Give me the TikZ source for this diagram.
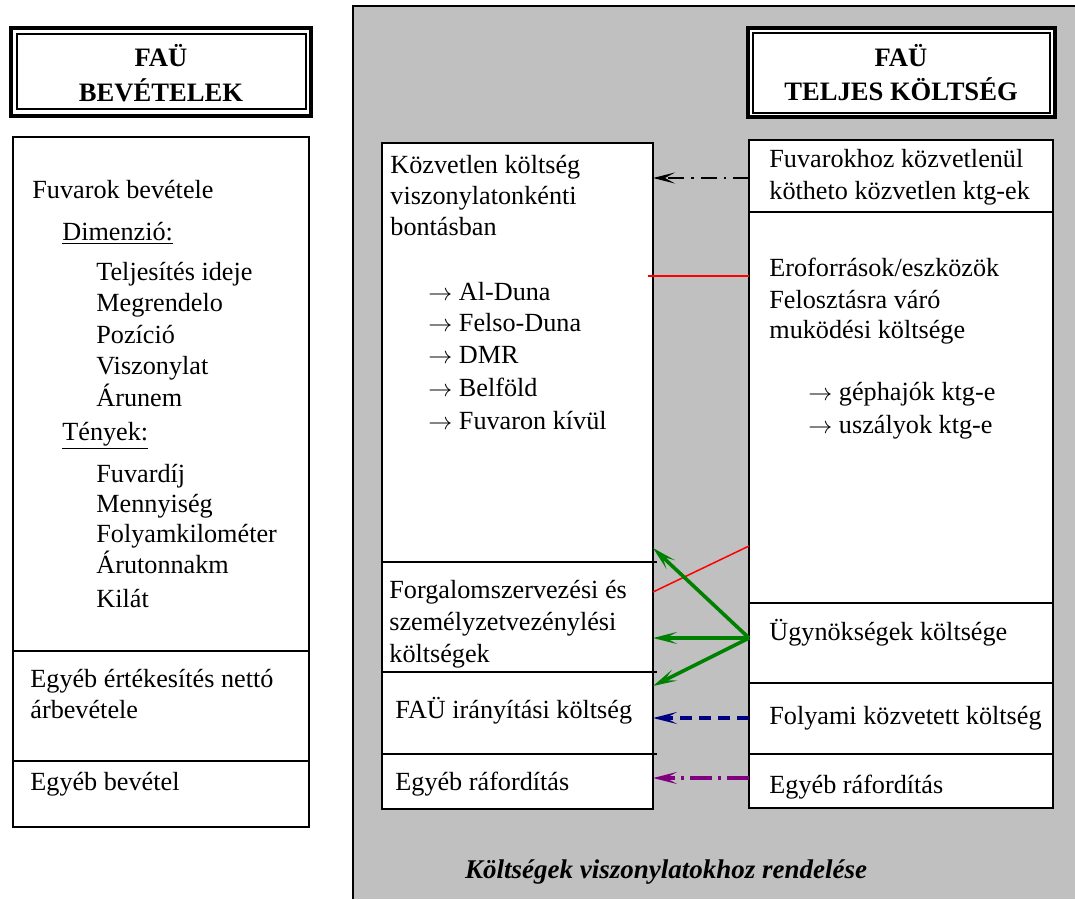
\documentclass[tikz,border=0pt]{standalone}
\usepackage{fontspec}
\setmainfont{Liberation Serif}
\usetikzlibrary{fit,arrows.meta}
\definecolor{panelgrey}{RGB}{192,192,192}
\definecolor{arrgreen}{RGB}{0,128,0}
\definecolor{arrnavy}{RGB}{0,0,128}
\definecolor{arrpurple}{RGB}{128,0,128}
\begin{document}
\begin{tikzpicture}[x=0.5pt,y=-0.5pt,
  panelbox/.style={fill=panelgrey, inner sep=0pt, outer sep=0pt},
  colbox/.style={draw, line width=0.75pt, fill=white, inner sep=0pt, outer sep=0pt},
  headbox/.style={draw, line width=1.8pt, fill=white, inner sep=0pt, outer sep=0pt},
  headinner/.style={line width=0.6pt},
  divider/.style={line width=0.75pt},
  txt/.style={anchor=base west, inner sep=0pt, font=\fontsize{13.1}{15.5}\selectfont},
  headtxt/.style={anchor=base, inner sep=0pt, font=\fontsize{13.3}{15.5}\selectfont\bfseries},
  tip/.style={-{Stealth[length=12pt,width=6pt,inset=5.5pt]}},
  thinlink/.style={line width=0.75pt, dash pattern=on 8pt off 3.5pt on 1.2pt off 3.5pt, -{Stealth[length=11pt,width=5.5pt,inset=5pt]}},
  redlink/.style={red, line width=0.75pt},
  greenlink/.style={arrgreen, line width=1.8pt, tip},
  navylink/.style={arrnavy, line width=2pt, dash pattern=on 6pt off 3.5pt, tip},
  purplelink/.style={arrpurple, line width=2pt, dash pattern=on 11pt off 3pt on 1.5pt off 3pt, tip}]
\useasboundingbox (0,0) rectangle (1075,899);

% grey cost panel
\node[panelbox, fit={(353,6)(1075,899)}] (panel) {};
\draw[line width=1pt] (panel.south west) -- (panel.north west) -- (panel.north east);

% revenue header
\node[headbox, fit={(11,28)(311,116)}] (revhead) {};
\draw[headinner] (17,34) rectangle (306,109);
\node[headtxt] (revh1) at (161,67) {FAÜ};
\node[headtxt] (revh2) at (161,102) {BEVÉTELEK};

% total cost header
\node[headbox, fit={(748,28)(1055,117)}] (costhead) {};
\draw[headinner] (753,33) rectangle (1050,113);
\node[headtxt] (costh1) at (901,67) {FAÜ};
\node[headtxt] (costh2) at (901,101) {TELJES KÖLTSÉG};

% revenue column
\node[colbox, fit={(13,137)(309,827)}] (rev) {};
\draw[divider] (rev.west |- 0,651) -- (rev.east |- 0,651);
\draw[divider] (rev.west |- 0,761) -- (rev.east |- 0,761);
\node[txt] (r1) at (32,198) {Fuvarok bevétele};
\node[txt] (r2) at (62,240) {\underline{Dimenzió:}};
\node[txt] (r3) at (96,280) {Teljesítés ideje};
\node[txt] (r4) at (96,311.5) {Megrendelo};
\node[txt] (r5) at (96,343) {Pozíció};
\node[txt] (r6) at (96,374.5) {Viszonylat};
\node[txt] (r7) at (96,406) {Árunem};
\node[txt] (r8) at (62,440) {\underline{Tények:}};
\node[txt] (r9) at (96,482) {Fuvardíj};
\node[txt] (r10) at (96,512) {Mennyiség};
\node[txt] (r11) at (96,542) {Folyamkilométer};
\node[txt] (r12) at (96,573) {Árutonnakm};
\node[txt] (r13) at (96,607) {Kilát};
\node[txt] (r14) at (30,687) {Egyéb értékesítés nettó};
\node[txt] (r15) at (30,718) {árbevétele};
\node[txt] (r16) at (30,790) {Egyéb bevétel};

% cost allocation column
\node[colbox, fit={(382,143)(653,809)}] (mc) {};
\draw[divider] (mc.west |- 0,562) -- ([xshift=2pt]mc.east |- 0,562);
\draw[divider] (mc.west |- 0,672) -- ([xshift=2pt]mc.east |- 0,672);
\draw[divider] (mc.west |- 0,754) -- ([xshift=2pt]mc.east |- 0,754);
\node[txt] (m1) at (390,173) {Közvetlen költség};
\node[txt] (m2) at (390,204) {viszonylatonkénti};
\node[txt] (m3) at (390,235) {bontásban};
\node[txt] (m4) at (428,300) {$\rightarrow$ Al-Duna};
\node[txt] (m5) at (428,331) {$\rightarrow$ Felso-Duna};
\node[txt] (m6) at (428,363) {$\rightarrow$ DMR};
\node[txt] (m7) at (428,396) {$\rightarrow$ Belföld};
\node[txt] (m8) at (428,429) {$\rightarrow$ Fuvaron kívül};
\node[txt] (m9) at (389,598) {Forgalomszervezési és};
\node[txt] (m10) at (389,630) {személyzetvezénylési};
\node[txt] (m11) at (389,662) {költségek};
\node[txt] (m12) at (395,718) {FAÜ irányítási költség};
\node[txt] (m13) at (395,790) {Egyéb ráfordítás};

% total cost column
\node[colbox, fit={(749,140)(1053,808)}] (rc) {};
\draw[divider] (rc.west |- 0,212) -- (rc.east |- 0,212);
\draw[divider] (rc.west |- 0,603) -- (rc.east |- 0,603);
\draw[divider] (rc.west |- 0,683) -- (rc.east |- 0,683);
\draw[divider] (rc.west |- 0,754) -- (rc.east |- 0,754);
\node[txt] (c1) at (769,167) {Fuvarokhoz közvetlenül};
\node[txt] (c2) at (769,199) {kötheto közvetlen ktg-ek};
\node[txt] (c3) at (769,276) {Eroforrások/eszközök};
\node[txt] (c4) at (769,308) {Felosztásra váró};
\node[txt] (c5) at (769,338) {muködési költsége};
\node[txt] (c6) at (808,400) {$\rightarrow$ géphajók ktg-e};
\node[txt] (c7) at (808,433) {$\rightarrow$ uszályok ktg-e};
\node[txt] (c8) at (769,640) {Ügynökségek költsége};
\node[txt] (c9) at (769,724) {Folyami közvetett költség};
\node[txt] (c10) at (769,793) {Egyéb ráfordítás};

% allocation links
\draw[thinlink] (rc.west |- 0,178) -- (mc.east |- 0,178);
\draw[redlink] ([xshift=-2.5pt]mc.east |- 0,276) -- (rc.west |- 0,276);
\draw[redlink] (mc.east |- 0,592) -- (rc.west |- 0,546);
\coordinate (agency) at (rc.west |- 0,638);
\draw[greenlink] (agency) -- (mc.east |- 0,548);
\draw[greenlink] (agency) -- (mc.east |- 0,638);
\draw[greenlink] (agency) -- (mc.east |- 0,686);
\draw[navylink] (rc.west |- 0,718) -- (mc.east |- 0,718);
\draw[purplelink] (rc.west |- 0,778) -- (mc.east |- 0,778);

% panel caption
\node[anchor=base, inner sep=0pt, font=\fontsize{13.5}{16}\selectfont\bfseries\itshape] (caption) at (666,878) {Költségek viszonylatokhoz rendelése};
\end{tikzpicture}
\end{document}
